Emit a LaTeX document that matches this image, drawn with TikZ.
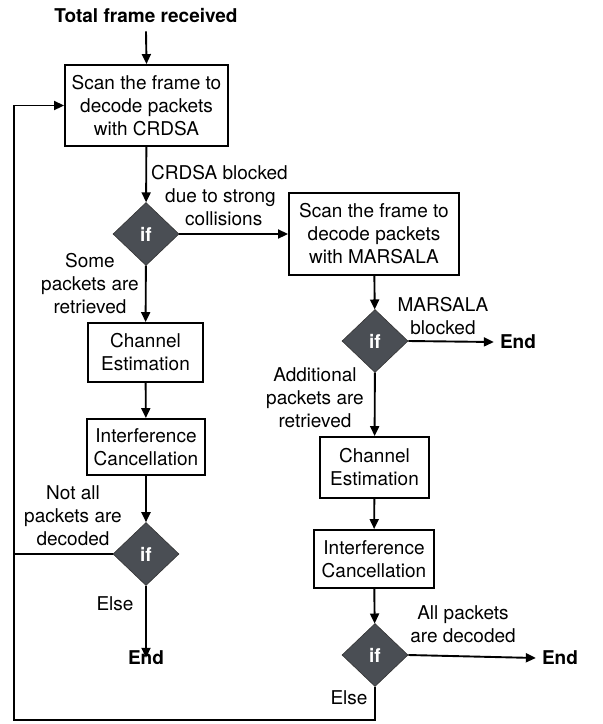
\documentclass[tikz,border=0pt]{standalone}
\usepackage{fontspec}
\setmainfont{TeX Gyre Heros}
\usetikzlibrary{shapes.geometric,arrows.meta}
\definecolor{dgray}{HTML}{4A4E54}
\begin{document}
\begin{tikzpicture}[x=1pt,y=-1pt,
  every node/.style={font=\fontsize{19}{23}\selectfont},
  box/.style={draw=black,line width=1.9pt,align=center,inner sep=0pt},
  cond/.style={diamond,fill=dgray,draw=black!80,line width=0.6pt,inner sep=0pt,
     minimum width=66pt,minimum height=63pt,text=white,font=\fontsize{19}{23}\selectfont\bfseries},
  lbl/.style={align=center,inner sep=0pt},
  ttl/.style={inner sep=0pt,font=\fontsize{19}{23}\selectfont\bfseries},
  conn/.style={line width=1.9pt,-{Triangle[length=10pt,width=9pt]}},
  plain/.style={line width=1.9pt}
]
\useasboundingbox (0,0) rectangle (603,724);

\node[ttl] (top) at (146,16) {Total frame received};
\node[box,minimum width=163pt,minimum height=81pt] (b1) at (146.5,105.5)
  {Scan the frame to\\decode packets\\with CRDSA};
\node[cond] (d1) at (146,234) {if};
\node[box,minimum width=170pt,minimum height=82pt] (b2) at (374,234)
  {Scan the frame to\\decode packets\\with MARSALA};
\node[box,minimum width=115pt,minimum height=59pt] (b3) at (145.5,352.5)
  {Channel\\Estimation};
\node[box,minimum width=118pt,minimum height=56pt] (b4) at (146,447)
  {Interference\\Cancellation};
\node[cond] (d3) at (146,554) {if};
\node[ttl] (e1) at (146,658) {End};

\node[cond] (d2) at (375,341) {if};
\node[ttl] (e2) at (518,342) {End};
\node[box,minimum width=109pt,minimum height=61pt] (b5) at (374.5,467.5)
  {Channel\\Estimation};
\node[box,minimum width=120pt,minimum height=58pt] (b6) at (374,559)
  {Interference\\Cancellation};
\node[cond] (d4) at (375,655) {if};
\node[ttl] (e3) at (560,658) {End};

% labels
\node[lbl,align=left,anchor=west] (l1) at (151,196) {CRDSA blocked\\\hspace*{14pt}due to strong\\\hspace*{34pt}collisions};
\node[lbl] (l2) at (90,284) {Some\\packets are\\retrieved};
\node[lbl] (l3) at (443,316) {MARSALA\\blocked};
\node[lbl] (l4) at (315,398) {Additional\\packets are\\retrieved};
\node[lbl] (l5) at (73,516) {Not all\\packets are\\decoded};
\node[lbl] (l6) at (115,604) {Else};
\node[lbl] (l7) at (463,624) {All packets\\are decoded};
\node[lbl] (l8) at (349,698) {Else};

\coordinate (c1) at (14,720);
\coordinate (c2) at (375,720);
\coordinate (c3) at (14,554);

% connectors
\draw[conn] (top.south) ++(0,8) -- (b1.north);
\draw[conn] (b1) -- (d1);
\draw[conn] (d1) -- (b2);
\draw[conn] (d1) -- (b3);
\draw[conn] (b3) -- (b4);
\draw[conn] (b4) -- (d3);
\draw[conn] (d3.south) -- ([yshift=-7pt]e1.north);
\draw[plain] (d3.west) -- (c3);
\draw[conn] (b2) -- (d2);
\draw[conn] (d2.east) -- ([xshift=-6pt]e2.west);
\draw[conn] (d2) -- (b5);
\draw[conn] (b5) -- (b6);
\draw[conn] (b6) -- (d4);
\draw[conn] (d4.east) -- ([xshift=-6pt]e3.west);
\draw[conn] (d4.south) -- (c2) -- (c1) |- (b1.west);
\end{tikzpicture}
\end{document}
